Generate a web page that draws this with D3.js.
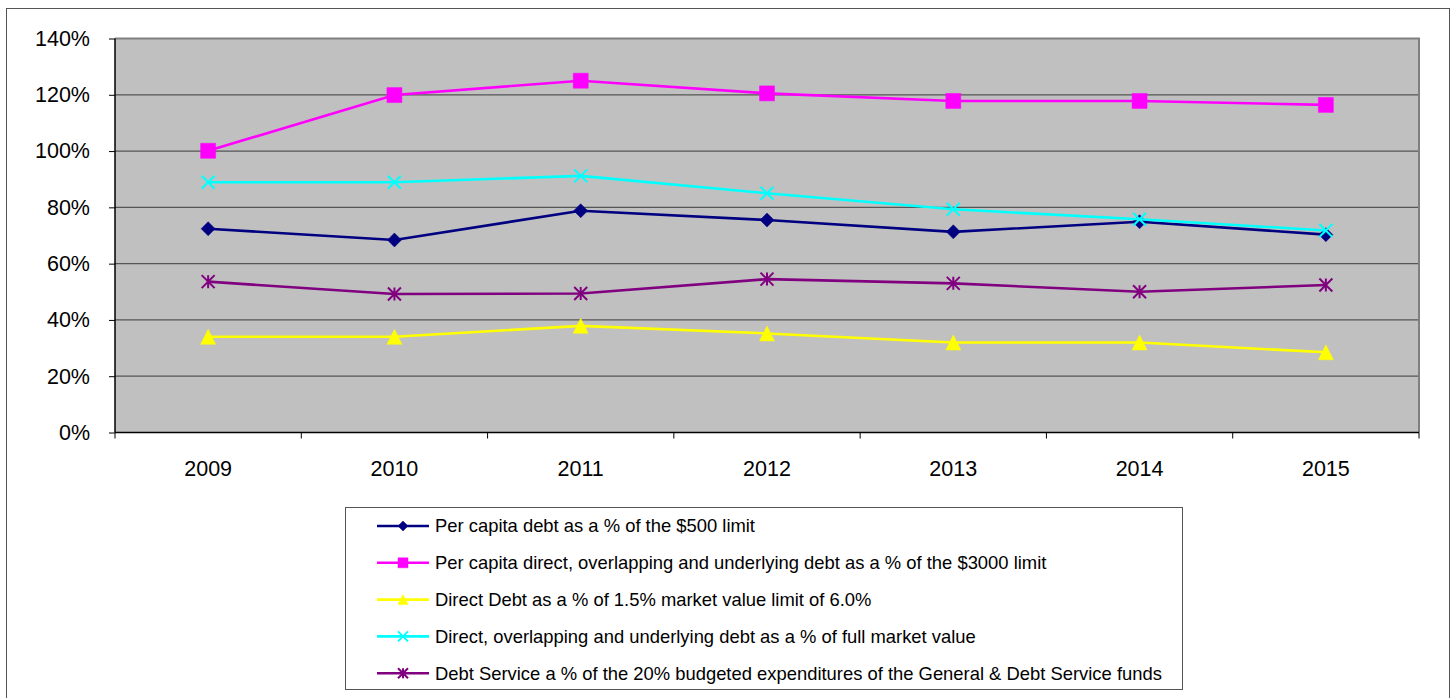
<!DOCTYPE html>
<html>
<head>
<meta charset="utf-8">
<script src="https://cdn.jsdelivr.net/npm/d3@7"></script>
<style>
  body { margin: 0; background: #fff; }
  svg text { font-family: "Liberation Sans", Arial, sans-serif; fill: #000; }
</style>
</head>
<body>
<div id="chart"></div>
<script>
"use strict";

const years = ["2009", "2010", "2011", "2012", "2013", "2014", "2015"];
const yTicks = [0, 0.2, 0.4, 0.6, 0.8, 1.0, 1.2, 1.4];

const perCapitaDebt = [0.724, 0.684, 0.788, 0.755, 0.713, 0.749, 0.703];
const perCapitaOverlap = [1.001, 1.199, 1.250, 1.205, 1.178, 1.178, 1.164];
const directDebt = [0.340, 0.340, 0.379, 0.352, 0.320, 0.320, 0.285];
const overlapMarket = [0.889, 0.889, 0.912, 0.850, 0.793, 0.758, 0.718];
const debtService = [0.536, 0.492, 0.494, 0.545, 0.530, 0.500, 0.524];

const seriesNames = [
  "Per capita debt as a % of the $500 limit",
  "Per capita direct, overlapping and underlying debt as a % of the $3000 limit",
  "Direct Debt as a % of 1.5% market value limit of 6.0%",
  "Direct, overlapping and underlying debt as a % of full market value",
  "Debt Service a % of the 20% budgeted expenditures of the General & Debt Service funds"
];
const seriesValues = [perCapitaDebt, perCapitaOverlap, directDebt, overlapMarket, debtService];
const seriesColors = ["#000080", "#ff00ff", "#ffff00", "#00ffff", "#800080"];
const seriesMarkers = ["diamond", "square", "triangle", "cross", "star"];

const W = 1455, H = 698;
const plot = {left: 115, right: 1419, top: 38.5, bottom: 432.5};

const svg = d3.select("#chart").append("svg").attr("width", W).attr("height", H);

// outer chart frame
svg.append("rect").attr("x", 6.5).attr("y", 8.5).attr("width", 1443).attr("height", 700)
  .attr("fill", "#fff").attr("stroke", "#555").attr("stroke-width", 1);

const x = d3.scaleBand().domain(years).range([plot.left, plot.right]).padding(0);
const y = d3.scaleLinear().domain([0, 1.4]).range([plot.bottom, plot.top]);
const cx = d => x(d) + x.bandwidth() / 2;

// plot area
svg.append("rect").attr("x", plot.left).attr("y", plot.top)
  .attr("width", plot.right - plot.left).attr("height", plot.bottom - plot.top)
  .attr("fill", "#c0c0c0");

// grid lines
svg.append("g").selectAll("line").data(yTicks.filter(t => t > 0 && t < 1.4)).enter().append("line")
  .attr("x1", plot.left).attr("x2", plot.right)
  .attr("y1", d => y(d)).attr("y2", d => y(d))
  .attr("stroke", "#555").attr("stroke-width", 1.2);

// top/right border of plot area
svg.append("path")
  .attr("d", "M" + plot.left + "," + plot.top + "H" + plot.right + "V" + plot.bottom)
  .attr("fill", "none").attr("stroke", "#808080").attr("stroke-width", 2);

// y axis
const yAxis = svg.append("g").attr("transform", "translate(" + plot.left + ",0)")
  .call(d3.axisLeft(y).tickValues(yTicks).tickFormat(d3.format(".0%")).tickSize(6).tickPadding(19));
yAxis.select(".domain").attr("stroke", "#000").attr("stroke-width", 1.5).attr("d", "M0," + plot.top + "V" + plot.bottom);
yAxis.selectAll(".tick line").attr("stroke", "#000");
yAxis.selectAll("text").attr("font-size", 21.5).attr("font-family", "Liberation Sans, Arial, sans-serif").attr("fill", "#000");

// x axis: ticks at category boundaries
const xAxis = svg.append("g").attr("transform", "translate(0," + plot.bottom + ")");
xAxis.append("line").attr("x1", plot.left).attr("x2", plot.right).attr("stroke", "#000").attr("stroke-width", 1.5);
const bounds = years.map(d => x(d)).concat([plot.right]);
xAxis.selectAll("line.tk").data(bounds).enter().append("line").attr("class", "tk")
  .attr("x1", d => d).attr("x2", d => d).attr("y1", 0).attr("y2", 6).attr("stroke", "#000");
xAxis.selectAll("text").data(years).enter().append("text")
  .attr("x", d => cx(d)).attr("y", 43.5).attr("text-anchor", "middle").attr("font-size", 21.5)
  .text(d => d);

function markerPath(kind, r) {
  if (kind === "diamond") return "M0," + (-r) + "L" + r + ",0L0," + r + "L" + (-r) + ",0Z";
  if (kind === "square") return "M" + (-r) + "," + (-r) + "H" + r + "V" + r + "H" + (-r) + "Z";
  if (kind === "triangle") return "M0," + (-r) + "L" + r + "," + r + "H" + (-r) + "Z";
  if (kind === "cross") return "M" + (-r) + "," + (-r) + "L" + r + "," + r + "M" + (-r) + "," + r + "L" + r + "," + (-r);
  return "M" + (-r) + "," + (-r) + "L" + r + "," + r + "M" + (-r) + "," + r + "L" + r + "," + (-r) + "M0," + (-r) + "V" + r;
}
function drawMarker(g, kind, color, r) {
  const filled = kind === "diamond" || kind === "square" || kind === "triangle";
  g.append("path").attr("d", markerPath(kind, r))
    .attr("fill", filled ? color : "none")
    .attr("stroke", color).attr("stroke-width", filled ? 0.5 : 2);
}

const line = d3.line().x((d, i) => cx(years[i])).y(d => y(d));
const markerR = [7, 7.5, 7.5, 6.5, 6.5];

seriesValues.forEach(function(vals, s) {
  const g = svg.append("g");
  g.append("path").datum(vals).attr("d", line).attr("fill", "none")
    .attr("stroke", seriesColors[s]).attr("stroke-width", 2.6);
  vals.forEach(function(v, i) {
    const m = g.append("g").attr("transform", "translate(" + cx(years[i]) + "," + y(v) + ")");
    drawMarker(m, seriesMarkers[s], seriesColors[s], markerR[s]);
  });
});

// legend
const legend = svg.append("g");
legend.append("rect").attr("x", 345.5).attr("y", 507.5).attr("width", 837).attr("height", 182)
  .attr("fill", "#fff").attr("stroke", "#555").attr("stroke-width", 1);
seriesNames.forEach(function(name, s) {
  const ly = 526 + s * 36.8;
  const g = legend.append("g");
  g.append("line").attr("x1", 377).attr("x2", 429).attr("y1", ly).attr("y2", ly)
    .attr("stroke", seriesColors[s]).attr("stroke-width", 2.6);
  const m = g.append("g").attr("transform", "translate(403," + ly + ")");
  drawMarker(m, seriesMarkers[s], seriesColors[s], 5);
  g.append("text").attr("x", 435).attr("y", ly).attr("dy", "0.35em").attr("font-size", 18.4).text(name);
});
</script>
</body>
</html>
